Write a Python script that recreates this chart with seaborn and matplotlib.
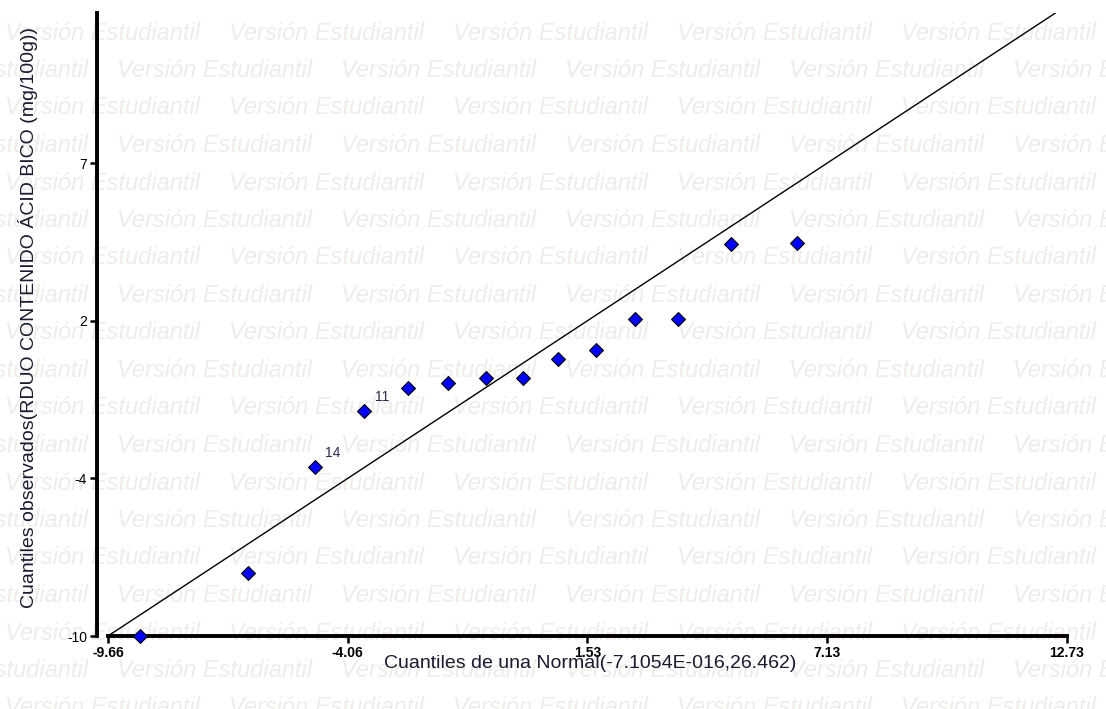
import matplotlib
matplotlib.use("Agg")
import matplotlib.pyplot as plt
import seaborn as sns
import pandas as pd

# ---------------- data ----------------
theoretical_q = [-8.91, -6.39, -4.83, -3.69, -2.66, -1.73, -0.84, 0.02, 0.84, 1.73, 2.64, 3.64, 4.88, 6.42]
observed_q = [-9.66, -7.43, -3.67, -1.68, -0.87, -0.69, -0.51, -0.51, 0.16, 0.48, 1.58, 1.58, 4.27, 4.31]
point_labels = ["", "", "14", "11", "", "", "", "", "", "", "", "", "", ""]

x_ticks = [-9.66, -4.06, 1.53, 7.13, 12.73]
x_tick_labels = ["-9.66", "-4.06", "1.53", "7.13", "12.73"]
y_ticks = [-9.66, -4.06, 1.53, 7.13]
y_tick_labels = ["-10", "-4", "2", "7"]
x_limits = [-9.66, 12.73]
y_limits = [-9.66, 12.46]

x_label = "Cuantiles de una Normal(-7.1054E-016,26.462)"
y_label = "Cuantiles observados(RDUO CONTENIDO ÁCID BICO (mg/100g))"
watermark = "Versión Estudiantil"

df = pd.DataFrame({"teo": theoretical_q, "obs": observed_q, "lab": point_labels})

# ---------------- style ----------------
sns.set_theme(style="white")
plt.rcParams["font.family"] = ["Liberation Sans", "DejaVu Sans"]

W, H = 1106, 709
fig = plt.figure(figsize=(W / 100, H / 100), dpi=100)
fig.patch.set_facecolor("white")
ax = fig.add_axes([108 / W, 1 - 636 / H, (1067 - 108) / W, (636 - 13) / H])
ax.patch.set_alpha(0)

# watermark grid
row_y = 33.0
row = 0
while row_y < H + 20:
    start = 5 if row % 2 == 0 else 117
    xs = start - 224
    while xs < W:
        fig.text(xs / W, 1 - row_y / H, watermark, fontsize=17, style="italic",
                 color="#efecea", ha="left", va="center", zorder=-5)
        xs += 224
    row_y += 37.5
    row += 1

# reference line y = x
ax.axline((0, 0), (1, 1), color="black", lw=1.0, zorder=2)

sns.scatterplot(data=df, x="teo", y="obs", marker="D", s=50, color="#0000ff",
                edgecolor="black", linewidth=0.8, zorder=4, clip_on=False, ax=ax)

for _, r in df.iterrows():
    if r["lab"]:
        ax.annotate(r["lab"], (r["teo"], r["obs"]), xytext=(13, 10),
                    textcoords="offset points", ha="center", va="center",
                    fontsize=10, color="#2a2a50", zorder=5)

ax.set_xlim(x_limits)
ax.set_ylim(y_limits)
ax.set_xticks(x_ticks)
ax.set_xticklabels(x_tick_labels, fontweight="bold")
ax.set_yticks(y_ticks)
ax.set_yticklabels(y_tick_labels, fontweight="bold")

for s in ["top", "right"]:
    ax.spines[s].set_visible(False)
for s in ["left", "bottom"]:
    ax.spines[s].set_color("black")
    ax.spines[s].set_linewidth(2.8)
ax.spines["left"].set_position(("outward", 8))
ax.tick_params(axis="both", direction="out", length=5, width=1.8, colors="black",
               labelsize=10, pad=2, bottom=True, left=True)

ax.set_xlabel(x_label, fontsize=14, color="#1a1a30", va="center")
ax.xaxis.set_label_coords((590 - 108) / 959, (636 - 663) / 623)
ax.set_ylabel(y_label, fontsize=14, color="#1a1a30", va="center")
ax.yaxis.set_label_coords((28 - 108) / 959, (636 - 317) / 623)
ax.grid(False)

fig.savefig("out.png", dpi=100)
